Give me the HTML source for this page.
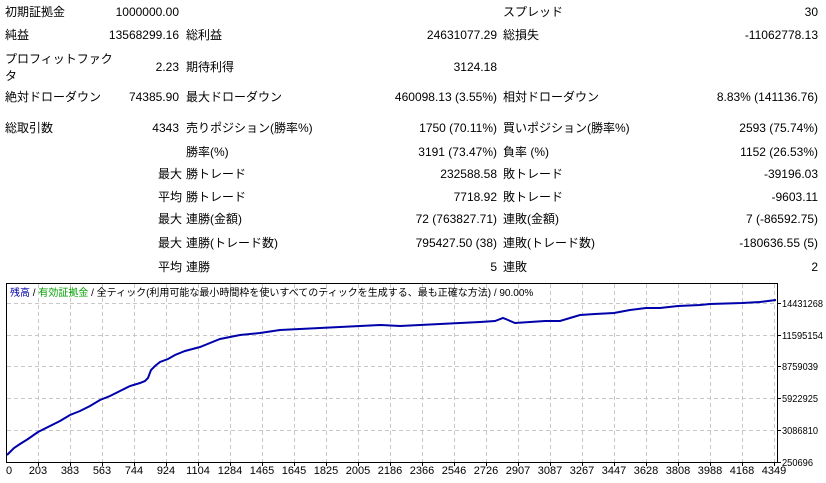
<!DOCTYPE html>
<html><head><meta charset="utf-8"><style>
body{margin:0;width:826px;height:483px;background:#fff;position:relative;overflow:hidden;font-family:"Liberation Sans","Noto Sans CJK JP",sans-serif;font-size:12px;color:#000}
.t{position:absolute;white-space:nowrap;line-height:14px}
.r{text-align:right}
</style></head><body>
<div class="t" style="left:5px;top:5px">初期証拠金</div><div class="t r" style="right:647px;top:5px">1000000.00</div>
<div class="t" style="left:503px;top:5px">スプレッド</div><div class="t r" style="right:8px;top:5px">30</div>

<div class="t" style="left:5px;top:28px">純益</div><div class="t r" style="right:647px;top:28px">13568299.16</div>
<div class="t" style="left:186px;top:28px">総利益</div><div class="t r" style="right:329px;top:28px">24631077.29</div>
<div class="t" style="left:503px;top:28px">総損失</div><div class="t r" style="right:8px;top:28px">-11062778.13</div>

<div class="t" style="left:5px;top:52px">プロフィットファク</div><div class="t" style="left:5px;top:69px">タ</div>
<div class="t r" style="right:647px;top:60px">2.23</div>
<div class="t" style="left:186px;top:60px">期待利得</div><div class="t r" style="right:329px;top:60px">3124.18</div>

<div class="t" style="left:5px;top:90px">絶対ドローダウン</div><div class="t r" style="right:647px;top:90px">74385.90</div>
<div class="t" style="left:186px;top:90px">最大ドローダウン</div><div class="t r" style="right:329px;top:90px">460098.13 (3.55%)</div>
<div class="t" style="left:503px;top:90px">相対ドローダウン</div><div class="t r" style="right:8px;top:90px">8.83% (141136.76)</div>

<div class="t" style="left:5px;top:121px">総取引数</div><div class="t r" style="right:647px;top:121px">4343</div>
<div class="t" style="left:186px;top:121px">売りポジション(勝率%)</div><div class="t r" style="right:329px;top:121px">1750 (70.11%)</div>
<div class="t" style="left:503px;top:121px">買いポジション(勝率%)</div><div class="t r" style="right:8px;top:121px">2593 (75.74%)</div>

<div class="t" style="left:186px;top:145px">勝率(%)</div><div class="t r" style="right:329px;top:145px">3191 (73.47%)</div>
<div class="t" style="left:503px;top:145px">負率 (%)</div><div class="t r" style="right:8px;top:145px">1152 (26.53%)</div>

<div class="t" style="left:158px;top:167px">最大</div><div class="t" style="left:186px;top:167px">勝トレード</div><div class="t r" style="right:329px;top:167px">232588.58</div>
<div class="t" style="left:503px;top:167px">敗トレード</div><div class="t r" style="right:8px;top:167px">-39196.03</div>

<div class="t" style="left:158px;top:190px">平均</div><div class="t" style="left:186px;top:190px">勝トレード</div><div class="t r" style="right:329px;top:190px">7718.92</div>
<div class="t" style="left:503px;top:190px">敗トレード</div><div class="t r" style="right:8px;top:190px">-9603.11</div>

<div class="t" style="left:158px;top:212px">最大</div><div class="t" style="left:186px;top:212px">連勝(金額)</div><div class="t r" style="right:329px;top:212px">72 (763827.71)</div>
<div class="t" style="left:503px;top:212px">連敗(金額)</div><div class="t r" style="right:8px;top:212px">7 (-86592.75)</div>

<div class="t" style="left:158px;top:236px">最大</div><div class="t" style="left:186px;top:236px">連勝(トレード数)</div><div class="t r" style="right:329px;top:236px">795427.50 (38)</div>
<div class="t" style="left:503px;top:236px">連敗(トレード数)</div><div class="t r" style="right:8px;top:236px">-180636.55 (5)</div>

<div class="t" style="left:158px;top:260px">平均</div><div class="t" style="left:186px;top:260px">連勝</div><div class="t r" style="right:329px;top:260px">5</div>
<div class="t" style="left:503px;top:260px">連敗</div><div class="t r" style="right:8px;top:260px">2</div>

<svg style="position:absolute;left:0;top:0" width="826" height="483">
<g stroke="#c8c8c8" stroke-dasharray="4,3" stroke-width="1">
<path d="M38.5 284V462M70.5 284V462M102.5 284V462M134.5 284V462M166.5 284V462M198.5 284V462M230.5 284V462M262.5 284V462M294.5 284V462M326.5 284V462M358.5 284V462M390.5 284V462M422.5 284V462M454.5 284V462M486.5 284V462M518.5 284V462M550.5 284V462M582.5 284V462M614.5 284V462M646.5 284V462M678.5 284V462M710.5 284V462M742.5 284V462M774.5 284V462"/>
<path d="M7 303.5H777M7 335.5H777M7 366.5H777M7 398.5H777M7 430.5H777"/>
</g>
<rect x="6.5" y="283.5" width="771" height="179" fill="none" stroke="#000"/>
<g stroke="#000"><path d="M777 303.5h4M777 335.5h4M777 366.5h4M777 398.5h4M777 430.5h4M777 462.5h4"/>
<path d="M38.5 463v3M70.5 463v3M102.5 463v3M134.5 463v3M166.5 463v3M198.5 463v3M230.5 463v3M262.5 463v3M294.5 463v3M326.5 463v3M358.5 463v3M390.5 463v3M422.5 463v3M454.5 463v3M486.5 463v3M518.5 463v3M550.5 463v3M582.5 463v3M614.5 463v3M646.5 463v3M678.5 463v3M710.5 463v3M742.5 463v3M774.5 463v3"/></g>
<polyline fill="none" stroke="#0000aa" stroke-width="2" points="7,455 14,448 20,444 28,439 38,432 50,426 60,421 70,415 80,411 90,406 100,400 110,396 120,391 130,386 140,383 145,381 148,378 151,370 155,366 160,362 168,359 175,355 185,351 200,347 210,343 220,339 240,335 260,333 280,330 300,329 320,328 340,327 360,326 380,325 400,326 420,325 440,324 460,323 480,322 495,321 503,318 508,320 515,323 530,322 545,321 560,321 570,318 580,315 595,314 614,313 630,310 646,308 660,308 678,306 700,305 710,304 742,303 760,302 776,300"/>
<g font-family="Liberation Sans,sans-serif" font-size="11" fill="#000">
<g font-size="10.5">
<text x="782" y="307" textLength="41" lengthAdjust="spacingAndGlyphs">14431268</text><text x="782" y="339" textLength="41" lengthAdjust="spacingAndGlyphs">11595154</text><text x="782" y="370" textLength="36" lengthAdjust="spacingAndGlyphs">8759039</text><text x="782" y="402" textLength="36" lengthAdjust="spacingAndGlyphs">5922925</text><text x="782" y="434" textLength="36" lengthAdjust="spacingAndGlyphs">3086810</text><text x="782" y="466" textLength="31" lengthAdjust="spacingAndGlyphs">250696</text>
</g>
<g text-anchor="middle">
<text x="9" y="474">0</text><text x="38" y="474">203</text><text x="70" y="474">383</text><text x="102" y="474">563</text><text x="134" y="474">744</text><text x="166" y="474">924</text><text x="198" y="474">1104</text><text x="230" y="474">1284</text><text x="262" y="474">1465</text><text x="294" y="474">1645</text><text x="326" y="474">1825</text><text x="358" y="474">2005</text><text x="390" y="474">2186</text><text x="422" y="474">2366</text><text x="454" y="474">2546</text><text x="486" y="474">2726</text><text x="518" y="474">2907</text><text x="550" y="474">3087</text><text x="582" y="474">3267</text><text x="614" y="474">3447</text><text x="646" y="474">3628</text><text x="678" y="474">3808</text><text x="710" y="474">3988</text><text x="742" y="474">4168</text><text x="774" y="474">4349</text>
</g></g>
<text x="10" y="296" font-family="Liberation Sans,Noto Sans CJK JP,sans-serif" font-size="10"><tspan fill="#0000aa">残高</tspan><tspan fill="#000"> / </tspan><tspan fill="#00a000">有効証拠金</tspan><tspan fill="#000"> / 全ティック(利用可能な最小時間枠を使いすべてのティックを生成する、最も正確な方法) / 90.00%</tspan></text>
</svg>
</body></html>
